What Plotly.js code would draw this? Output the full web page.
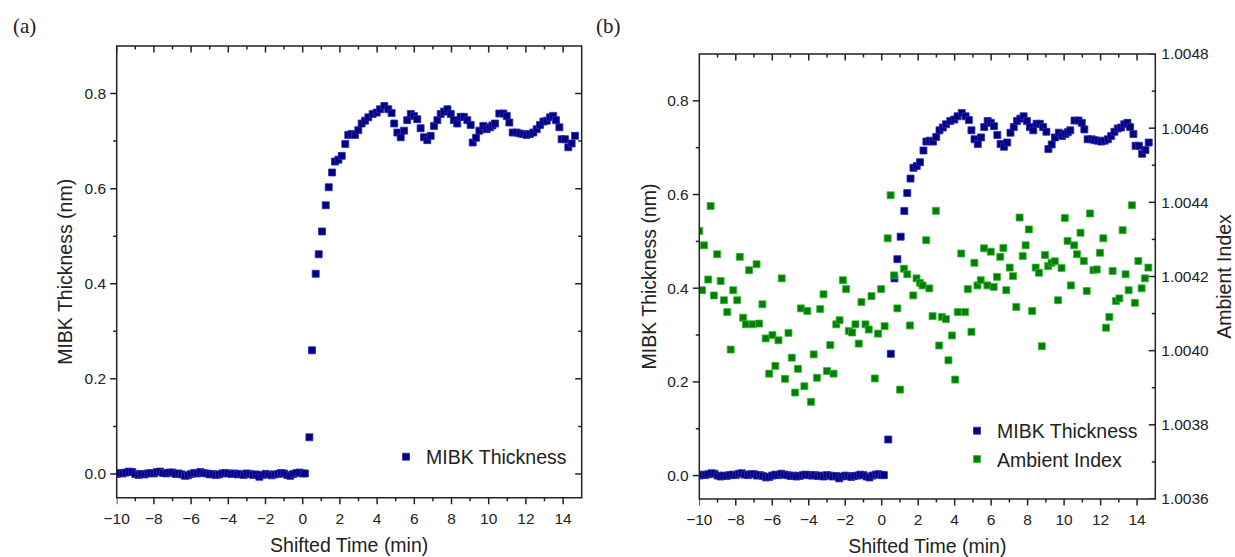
<!DOCTYPE html>
<html>
<head>
<meta charset="utf-8">
<script src="https://cdn.plot.ly/plotly-3.0.1.min.js"></script>
<style>html,body{margin:0;padding:0;background:#fff;}#chart{width:1235px;height:557px;}</style>
</head>
<body>
<div id="chart"></div>
<script>
// ---- Data ----
const mibkTime = [
 -10.00,-9.83,-9.67,-9.50,-9.33,-9.17,-9.00,-8.83,-8.67,-8.50,-8.33,-8.17,-8.00,-7.83,-7.67,-7.50,-7.33,-7.17,-7.00,-6.83,
 -6.67,-6.50,-6.33,-6.17,-6.00,-5.83,-5.67,-5.50,-5.33,-5.17,-5.00,-4.83,-4.67,-4.50,-4.33,-4.17,-4.00,-3.83,-3.67,-3.50,
 -3.33,-3.17,-3.00,-2.83,-2.67,-2.50,-2.33,-2.17,-2.00,-1.83,-1.67,-1.50,-1.33,-1.17,-1.00,-0.83,-0.67,-0.50,-0.33,-0.17,
 0.00,0.12,
 0.36,0.50,0.70,0.86,1.04,1.24,1.40,1.58,1.74,1.92,2.10,2.29,2.45,2.63,2.81,2.99,3.17,3.35,3.53,3.76,
 3.98,4.16,4.39,4.60,4.78,4.92,5.09,5.27,5.45,5.62,5.81,5.98,6.16,6.34,6.52,6.70,6.88,7.06,7.24,7.42,
 7.60,7.78,7.96,8.13,8.31,8.49,8.67,8.85,9.03,9.14,9.32,9.50,9.71,9.89,10.07,10.20,10.34,10.57,10.79,10.97,
 11.11,11.29,11.51,11.68,11.86,12.04,12.22,12.40,12.58,12.76,12.94,13.12,13.30,13.47,13.62,13.80,13.92,14.10,14.28,14.46,
 14.64
];
const mibkThickness = [
 0.000,0.002,0.001,0.003,0.005,0.004,0.000,-0.002,0.000,-0.001,0.001,0.002,0.001,0.004,0.005,0.002,0.001,0.003,0.003,0.000,
 0.001,-0.001,-0.004,-0.003,0.000,0.002,0.001,0.004,0.002,0.001,-0.001,0.000,-0.002,-0.001,0.001,0.002,0.001,0.000,0.001,-0.001,
 0.000,-0.002,0.001,0.000,-0.002,-0.001,-0.006,-0.002,0.000,-0.001,-0.003,-0.001,0.000,0.002,0.001,-0.002,-0.004,0.000,0.002,0.003,
 0.001,0.001,
 0.077,0.260,0.421,0.462,0.510,0.565,0.603,0.634,0.657,0.661,0.669,0.694,0.713,0.715,0.713,0.723,0.737,0.743,0.750,0.757,
 0.760,0.767,0.774,0.767,0.759,0.737,0.718,0.708,0.722,0.744,0.757,0.753,0.746,0.727,0.708,0.702,0.711,0.732,0.744,0.757,
 0.762,0.767,0.757,0.744,0.737,0.751,0.751,0.744,0.734,0.697,0.707,0.722,0.732,0.725,0.729,0.733,0.737,0.758,0.758,0.753,
 0.739,0.718,0.718,0.716,0.715,0.713,0.715,0.718,0.725,0.734,0.741,0.743,0.750,0.753,0.744,0.729,0.704,0.704,0.687,0.695,
 0.711
];
const ambTime = [
 -10.00,-9.85,-9.74,-9.51,-9.38,-9.20,-9.02,-8.83,-8.65,-8.47,-8.28,-8.14,-7.92,-7.78,-7.60,-7.45,-7.27,-7.08,-6.86,-6.72,
 -6.54,-6.36,-6.17,-5.99,-5.83,-5.66,-5.48,-5.30,-5.11,-4.93,-4.75,-4.59,-4.43,-4.24,-4.08,-3.88,-3.73,-3.55,-3.37,-3.19,
 -3.00,-2.82,-2.64,-2.49,-2.31,-2.13,-1.95,-1.80,-1.62,-1.44,-1.26,-1.11,-0.89,-0.71,-0.56,-0.38,-0.20,-0.03,0.16,0.33,
 0.49,0.68,0.86,1.01,1.22,1.40,1.55,1.73,1.91,2.10,2.24,2.44,2.61,2.79,2.97,3.15,3.30,3.52,3.66,3.85,
 4.03,4.17,4.36,4.57,4.72,4.92,5.08,5.25,5.43,5.61,5.79,5.98,6.14,6.32,6.50,6.67,6.83,7.02,7.20,7.38,
 7.56,7.73,7.89,8.07,8.25,8.44,8.62,8.78,8.95,9.13,9.31,9.49,9.67,9.86,10.04,10.19,10.37,10.55,10.71,10.90,
 11.08,11.24,11.42,11.61,11.79,11.97,12.15,12.30,12.48,12.66,12.84,13.03,13.21,13.37,13.54,13.72,13.88,14.07,14.25,14.43,
 14.62
];
const ambIndex = [
 1.004323,1.004163,1.004284,1.004192,1.004390,1.004149,1.004260,1.004188,1.004136,1.004104,1.004003,1.004163,1.004136,1.004253,1.004089,1.004071,1.004217,1.004071,1.004233,1.004073,
 1.004125,1.004033,1.003938,1.004042,1.003959,1.004028,1.004195,1.003924,1.004048,1.003981,1.003887,1.003951,1.004114,1.003904,1.004107,1.003862,1.003990,1.003927,1.004112,1.004152,
 1.003945,1.004015,1.003938,1.004071,1.004082,1.004190,1.004166,1.004053,1.004049,1.004071,1.004019,1.004131,1.004071,1.004057,1.004147,1.003925,1.004046,1.004166,1.004066,1.004303,
 1.004419,1.004203,1.004114,1.003895,1.004221,1.004206,1.004068,1.004149,1.004195,1.004183,1.004176,1.004298,1.004168,1.004093,1.004377,1.004014,1.004091,1.004085,1.003974,1.004041,
 1.003922,1.004104,1.004262,1.004104,1.004166,1.004051,1.004237,1.004176,1.004190,1.004276,1.004176,1.004267,1.004172,1.004199,1.004253,1.004277,1.004163,1.004224,1.004201,1.004118,
 1.004359,1.004255,1.004284,1.004327,1.004107,1.004224,1.004210,1.004012,1.004258,1.004228,1.004237,1.004241,1.004136,1.004223,1.004358,1.004296,1.004176,1.004284,1.004260,1.004318,
 1.004242,1.004161,1.004370,1.004217,1.004219,1.004264,1.004303,1.004062,1.004091,1.004215,1.004134,1.004141,1.004325,1.004206,1.004163,1.004392,1.004129,1.004242,1.004168,1.004195,
 1.004224
];
// tick settings: [first tick, step, last tick]
const xTicks = [-10, 2, 14];
const yTicks = [0, 0.2, 0.8];
const rTicks = [1.0036, 0.0002, 1.0048];

// ---- Styling ----
const W = 1235, H = 557;
const FONT = '"Liberation Sans", Arial, sans-serif';
const INK = '#222222';
const CLEAR = 'rgba(0,0,0,0)';
const tickFont = {family: FONT, size: 15.5, color: INK};
const titleFont = {family: FONT, size: 19.5, color: INK};
const NAVY = '#000080', GREEN = '#008000';
const MAJ = 6.5, MIN = 3.5, LW = 1.5;

// panel geometry (paper fractions)
const domA = {x: [116.7/W, 581.7/W], y: [(H-497.7)/H, (H-46)/H]};
const domB = {x: [699.3/W, 1155.3/W], y: [(H-499)/H, (H-54)/H]};

function seq(start, step, end) {
  const out = [];
  const n = Math.round((end - start) / step);
  for (let i = 0; i <= n; i++) out.push(+(start + i * step).toFixed(6));
  return out;
}
function minorSeq(t) { return seq(t[0] + t[1] / 2, t[1], t[2] - t[1] / 2); }

function frame(extra) {
  return Object.assign({
    showline: false, showgrid: false, zeroline: false,
    ticks: 'outside', ticklen: MAJ, tickwidth: LW, tickcolor: CLEAR,
    tickfont: tickFont
  }, extra);
}
function xMain(domain, anchor) {
  return frame({
    domain: domain, anchor: anchor, range: [-10, 15],
    tick0: xTicks[0], dtick: xTicks[1],
    title: {text: 'Shifted Time (min)', font: titleFont, standoff: 12}
  });
}
function yMain(domain, anchor, standoff) {
  return frame({
    domain: domain, anchor: anchor, range: [-0.05, 0.9],
    tick0: yTicks[0], dtick: yTicks[1], tickformat: '.1f',
    title: {text: 'MIBK Thickness (nm)', font: titleFont, standoff: standoff}
  });
}

// Origin-style frame: box + outward ticks bottom/left, inward ticks top/right.
// Tick positions come from the axes (xref/yref), tick lengths from paper fractions.
function frameShapes(dom, xr, yr, rightRef, rightMajor, rightMinor) {
  const s = [];
  const ln = {color: INK, width: LW};
  s.push({type: 'rect', xref: 'paper', yref: 'paper', x0: dom.x[0], x1: dom.x[1], y0: dom.y[0], y1: dom.y[1],
          line: ln, fillcolor: CLEAR, layer: 'above'});
  const xv = seq(...xTicks).map(v => [v, MAJ]).concat(seq(-9, 2, 13).map(v => [v, MIN]));
  xv.forEach(([v, len]) => {
    s.push({type: 'line', xref: xr, yref: 'paper', x0: v, x1: v, y0: dom.y[0], y1: dom.y[0] - len / H, line: ln});
    s.push({type: 'line', xref: xr, yref: 'paper', x0: v, x1: v, y0: dom.y[1], y1: dom.y[1] - len / H, line: ln});
  });
  const yv = seq(...yTicks).map(v => [v, MAJ]).concat(minorSeq(yTicks).map(v => [v, MIN]));
  yv.forEach(([v, len]) => {
    s.push({type: 'line', xref: 'paper', yref: yr, x0: dom.x[0], x1: dom.x[0] - len / W, y0: v, y1: v, line: ln});
  });
  const rv = rightMajor.map(v => [v, MAJ]).concat(rightMinor.map(v => [v, MIN]));
  rv.forEach(([v, len]) => {
    s.push({type: 'line', xref: 'paper', yref: rightRef, x0: dom.x[1], x1: dom.x[1] - len / W, y0: v, y1: v, line: ln});
  });
  return s;
}

const navyMarker = {symbol: 'square', size: 7, color: NAVY, line: {width: 0.8, color: '#2b2bb0'}};
const traces = [
  {type: 'scatter', mode: 'markers', x: mibkTime, y: mibkThickness, name: 'MIBK Thickness',
   xaxis: 'x', yaxis: 'y', legend: 'legend', marker: navyMarker},
  {type: 'scatter', mode: 'markers', x: mibkTime, y: mibkThickness, name: 'MIBK Thickness',
   xaxis: 'x2', yaxis: 'y2', legend: 'legend2', marker: navyMarker},
  {type: 'scatter', mode: 'markers', x: ambTime, y: ambIndex, name: 'Ambient Index',
   xaxis: 'x2', yaxis: 'y4', legend: 'legend2',
   marker: {symbol: 'square', size: 7, color: GREEN, line: {width: 0.8, color: '#3fb53f'}}}
];

const shapes = frameShapes(domA, 'x', 'y', 'y', seq(...yTicks), minorSeq(yTicks))
  .concat(frameShapes(domB, 'x2', 'y2', 'y4', seq(...rTicks), minorSeq(rTicks)));

const layout = {
  width: W, height: H,
  margin: {l: 0, r: 0, t: 0, b: 0},
  paper_bgcolor: '#ffffff', plot_bgcolor: '#ffffff',
  font: {family: FONT, color: INK},
  xaxis: xMain(domA.x, 'y'),
  yaxis: yMain(domA.y, 'x', 6),
  xaxis2: xMain(domB.x, 'y2'),
  yaxis2: yMain(domB.y, 'x2', 5),
  yaxis4: frame({overlaying: 'y2', anchor: 'x2', side: 'right', range: [1.0036, 1.0048],
    tick0: rTicks[0], dtick: rTicks[1], tickformat: '.4f', ticks: 'inside', ticklabelstandoff: 5,
    title: {text: 'Ambient Index', font: titleFont, standoff: 9}}),
  shapes: shapes,
  showlegend: true,
  legend: {x: 386/W, xanchor: 'left', y: (H-457)/H, yanchor: 'middle',
    bgcolor: CLEAR, borderwidth: 0, font: {family: FONT, size: 19.5, color: INK}},
  legend2: {x: 957/W, xanchor: 'left', y: (H-445)/H, yanchor: 'middle',
    bgcolor: CLEAR, borderwidth: 0, font: {family: FONT, size: 19.5, color: INK}},
  annotations: [
    {text: '(a)', xref: 'paper', yref: 'paper', x: 24/W, y: (H-26)/H, xanchor: 'center', yanchor: 'middle',
     showarrow: false, font: {family: '"Liberation Serif", "Times New Roman", serif', size: 21, color: INK}},
    {text: '(b)', xref: 'paper', yref: 'paper', x: 608/W, y: (H-26)/H, xanchor: 'center', yanchor: 'middle',
     showarrow: false, font: {family: '"Liberation Serif", "Times New Roman", serif', size: 21, color: INK}}
  ]
};

Plotly.newPlot('chart', traces, layout, {displayModeBar: false});
</script>
</body>
</html>
